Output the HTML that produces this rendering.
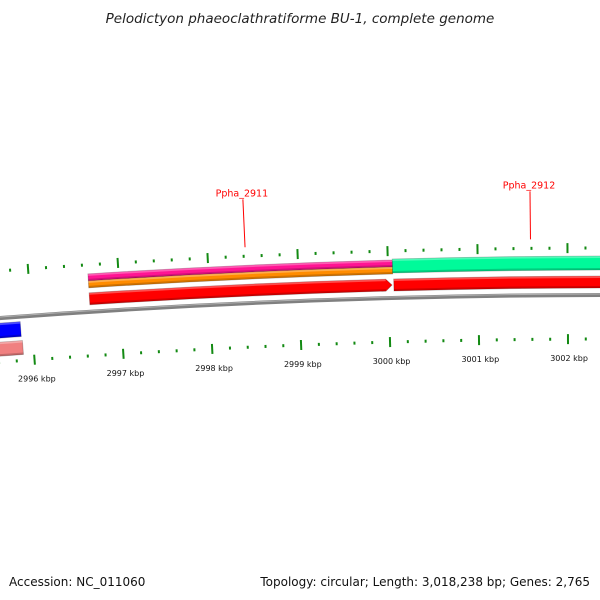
<!DOCTYPE html>
<html><head><meta charset="utf-8"><style>
body{margin:0;background:#fff;}
svg{display:block;font-family:"DejaVu Sans","Liberation Sans",sans-serif;}
</style></head><body>
<svg id="map" width="600" height="600" viewBox="0 0 600 600">
<text x="300" y="23" text-anchor="middle" font-size="13.5" font-style="italic" fill="#222">Pelodictyon phaeoclathratiforme BU-1, complete genome</text>
<text x="9" y="586" font-size="12" fill="#111">Accession: NC_011060</text>
<text x="590" y="586" text-anchor="end" font-size="12" fill="#111">Topology: circular; Length: 3,018,238 bp; Genes: 2,765</text>
<g id="layer"></g>
</svg>
<script>
// data
const featStarts = [2994500, 2994500, 2996660, 2996660, 2996660, 3000050, 3000060];
const featEnds   = [2995870, 2995880, 3000050, 3000050, 3000040, 3003500, 3003500];
const featTracks = ['rev-cds', 'rev-gene', 'fwd-gene-top', 'fwd-gene-mid', 'fwd-cds', 'fwd-gene-wide', 'fwd-cds'];
const featColors = ['#0000ff', '#f08080', '#ff1493', '#ff8c00', '#ff0000', '#00fa9a', '#ff0000'];
const featArrow  = [false, false, false, false, true, false, false];
const geneLabels = ['Ppha_2911', 'Ppha_2912'];
const geneLabelPos = [2998420, 3001590];
const tickStart = 2994000, tickEnd = 3003600, tickStep = 200, majorStep = 1000;
const tickLabels = ['2996 kbp','2997 kbp','2998 kbp','2999 kbp','3000 kbp','3001 kbp','3002 kbp'];
const tickLabelBp = [2996000,2997000,2998000,2999000,3000000,3001000,3002000];

// geometry
const CX = 614, CY = 8477, R = 8182;
const TH0 = Math.asin((390 - CX) / (R - 43)), K = 1.0935e-5;
const ang = bp => TH0 + (bp - 3000000) * K;
const pt = (r, bp) => { const t = ang(bp); return [CX + r * Math.sin(t), CY - r * Math.cos(t)]; };
const trackR = {'rev-cds':[-20,-5],'rev-gene':[-38,-24],'fwd-gene-top':[31,38],'fwd-gene-mid':[24,31],'fwd-cds':[7,19],'fwd-gene-wide':[25,39]};
const NS = 'http://www.w3.org/2000/svg';
const layer = document.getElementById('layer');
function mk(tag, attrs){ const e = document.createElementNS(NS, tag); for (const k in attrs) e.setAttribute(k, attrs[k]); layer.appendChild(e); return e; }
function arcPath(r1, r2, b1, b2, arrow){
  const a = pt(R + r2, b1), b = pt(R + r2, b2), c = pt(R + r1, b2), d = pt(R + r1, b1);
  const rr2 = R + r2, rr1 = R + r1;
  if (arrow){
    const back = b2 - 70;
    const b_ = pt(rr2, back), tip = pt(R + (r1 + r2) / 2, b2), c_ = pt(rr1, back);
    return `M${a}A${rr2},${rr2} 0 0 1 ${b_}L${tip}L${c_}A${rr1},${rr1} 0 0 0 ${d}Z`;
  }
  return `M${a}A${rr2},${rr2} 0 0 1 ${b}L${c}A${rr1},${rr1} 0 0 0 ${d}Z`;
}
// backbone
{
  const e = mk('path', {d:`M${pt(R,2993000)}A${R},${R} 0 0 1 ${pt(R,3004000)}`, fill:'none', stroke:'#808080', 'stroke-width':4});
  
  
  const e2 = mk('path', {d:`M${pt(R+1,2993000)}A${R+1},${R+1} 0 0 1 ${pt(R+1,3004000)}`, fill:'none', stroke:'#b0b0b0', 'stroke-width':1});
  
  
}
// features
featStarts.forEach((s, i) => {
  const [r1, r2] = trackR[featTracks[i]];
  const p = mk('path', {d: arcPath(r1, r2, s, featEnds[i], featArrow[i]), fill: featColors[i], stroke: 'rgba(0,0,0,0.25)', 'stroke-width': 0.8});
  
  
  const hl = mk('path', {d: arcPath(r2 - 2, r2, s, featEnds[i] - (featArrow[i] ? 70 : 0), false), fill: 'rgba(255,255,255,0.3)'});
  
  
  const sh = mk('path', {d: arcPath(r1, r1 + 2, s, featEnds[i] - (featArrow[i] ? 70 : 0), false), fill: 'rgba(0,0,0,0.18)'});
  
  
});
// ticks
for (let bp = tickStart; bp <= tickEnd; bp += tickStep) {
  const major = bp % majorStep === 0;
  [[47, major ? 5 : 1.5], [-44, major ? 5 : 1.5]].forEach(([off, h]) => {
    const a = pt(R + off - h, bp), b = pt(R + off + h, bp);
    const t = mk('line', {x1:a[0], y1:a[1], x2:b[0], y2:b[1], stroke:'#138a13', 'stroke-width':2});
    
    
  });
}
tickLabels.forEach((lab, i) => {
  const p = pt(R - 63, tickLabelBp[i]);
  const t = mk('text', {x:p[0] + 1, y:p[1] + 3, 'text-anchor':'middle', 'font-size':8, fill:'#111'});
  t.textContent = lab;
  
  
});
geneLabels.forEach((lab, i) => {
  const a = pt(R + 56, geneLabelPos[i]), b = pt(R + 104, geneLabelPos[i]);
  const l = mk('line', {x1:a[0], y1:a[1], x2:b[0], y2:b[1], stroke:'#ff0000', 'stroke-width':1});
  
  
  const t = mk('text', {x:b[0] - 1, y:b[1] - 3, 'text-anchor':'middle', 'font-size':9.5, fill:'#ff0000'});
  t.textContent = lab;
  
  
});
</script>
</body></html>
